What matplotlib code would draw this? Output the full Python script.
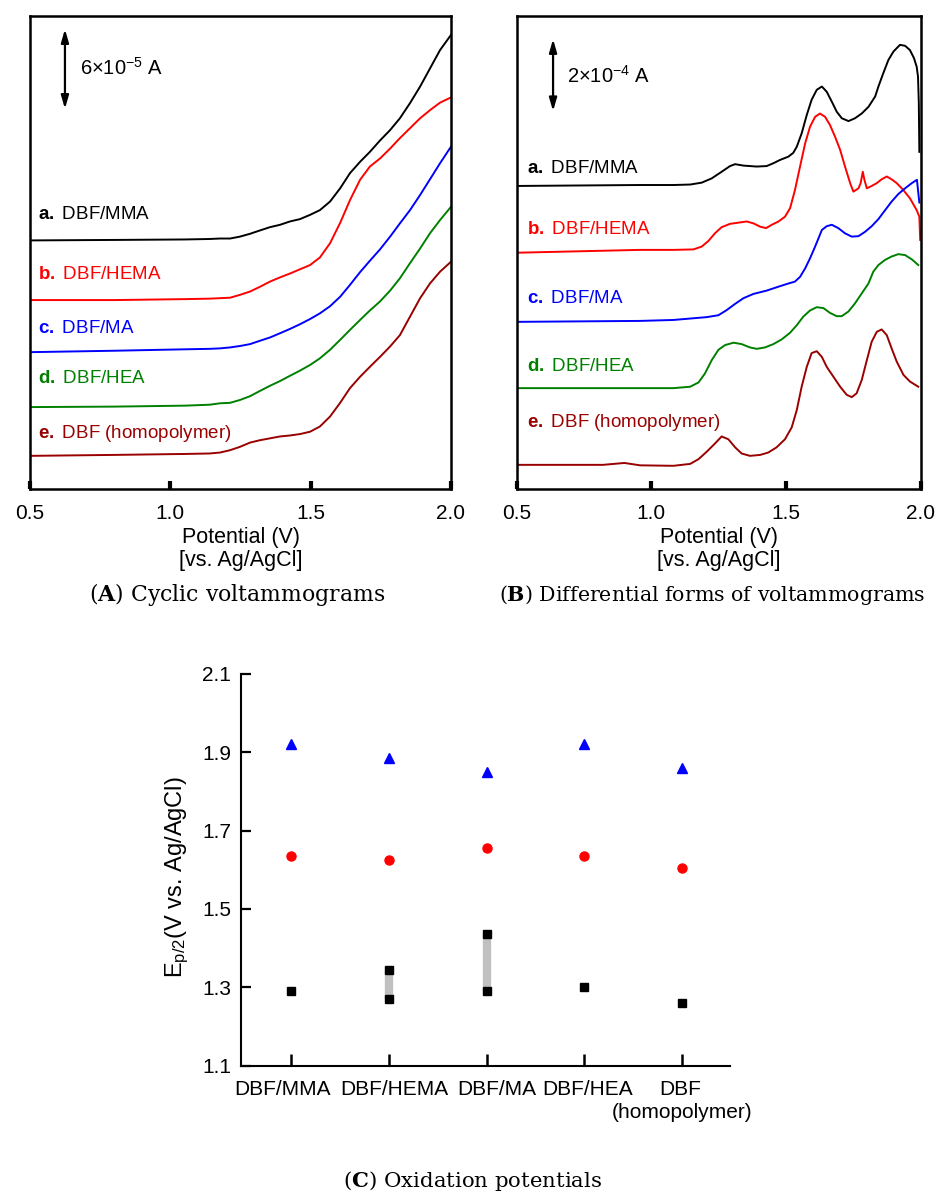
import matplotlib
matplotlib.use("Agg")
import matplotlib.pyplot as plt
import matplotlib.transforms as mtransforms
import numpy as np

plt.rcParams['font.family'] = ['Liberation Sans', 'DejaVu Sans']
plt.rcParams['mathtext.fontset'] = 'custom'
plt.rcParams['mathtext.rm'] = 'Liberation Sans'
plt.rcParams['mathtext.it'] = 'Liberation Sans:italic'
plt.rcParams['mathtext.bf'] = 'Liberation Sans:bold'

# ---- data -------------------------------------------------------------
letters = ["a.", "b.", "c.", "d.", "e."]
names = ["DBF/MMA", "DBF/HEMA", "DBF/MA", "DBF/HEA", "DBF (homopolymer)"]
colors = ["black", "#ff0000", "#0000ff", "#008000", "#990000"]

# (A) cyclic voltammograms, current offset to panel units (0..100)
cv_pot = [0.5, 0.8, 1.05, 1.14, 1.177, 1.213, 1.248, 1.284, 1.319, 1.355,
          1.391, 1.426, 1.462, 1.498, 1.533, 1.569, 1.605, 1.640, 1.676,
          1.711, 1.747, 1.783, 1.818, 1.854, 1.890, 1.925, 1.961, 2.0]
cv_a = [52.5, 52.6, 52.7, 52.8, 52.9, 52.9, 53.3, 53.9, 54.6, 55.3,
        55.8, 56.5, 57.0, 57.9, 58.9, 60.7, 63.5, 66.7, 69.1,
        71.2, 73.6, 75.8, 78.3, 81.5, 85.0, 88.8, 92.7, 95.9]
cv_b = [39.9, 39.9, 40.1, 40.2, 40.3, 40.4, 41.0, 41.7, 42.7, 43.8,
        44.7, 45.5, 46.4, 47.3, 48.9, 51.9, 56.2, 61.0, 65.3,
        68.1, 69.8, 71.9, 74.1, 76.2, 78.3, 80.0, 81.6, 82.7]
cv_c = [28.9, 29.2, 29.5, 29.6, 29.7, 29.9, 30.2, 30.6, 31.3, 32.0,
        32.9, 33.8, 34.8, 35.9, 37.1, 38.6, 40.6, 43.1, 45.8,
        48.2, 50.6, 53.3, 56.1, 58.9, 62.1, 65.4, 68.8, 72.3]
cv_d = [17.3, 17.4, 17.6, 17.8, 18.1, 18.2, 18.8, 19.6, 20.7, 21.8,
        22.8, 23.9, 25.0, 26.2, 27.6, 29.4, 31.5, 33.6, 35.7,
        37.7, 39.6, 41.9, 44.5, 47.7, 50.8, 54.0, 56.8, 59.6]
cv_e = [7.0, 7.2, 7.4, 7.5, 7.7, 8.2, 8.9, 9.8, 10.3, 10.7,
        11.1, 11.3, 11.6, 12.1, 13.2, 15.3, 18.2, 21.3, 23.7,
        25.8, 27.9, 30.1, 32.5, 36.4, 40.3, 43.4, 45.9, 48.0]

# (B) differential forms of the voltammograms
dv_a_pot = [0.5, 0.958, 1.082, 1.144, 1.187, 1.224, 1.261, 1.292, 1.311,
            1.342, 1.391, 1.428, 1.453, 1.478, 1.509, 1.527, 1.540, 1.558,
            1.577, 1.595, 1.614, 1.633, 1.651, 1.670, 1.688, 1.707, 1.732,
            1.756, 1.781, 1.806, 1.831, 1.843, 1.861, 1.880, 1.899, 1.923,
            1.942, 1.960, 1.975, 1.985, 1.990, 1.993, 1.995]
dv_a = [64.0, 64.2, 64.2, 64.3, 64.7, 65.6, 67.0, 68.2, 68.6,
        68.3, 68.1, 68.2, 68.8, 69.5, 70.2, 71.0, 72.3, 75.1,
        79.0, 82.2, 84.3, 85.0, 83.9, 81.8, 79.7, 78.3, 77.7,
        78.3, 79.3, 80.7, 82.9, 85.0, 87.8, 90.6, 92.4, 93.8,
        93.6, 92.7, 91.0, 89.2, 87.1, 81.5, 71.2]
dv_b_pot = [0.5, 0.958, 1.082, 1.156, 1.187, 1.212, 1.236, 1.261, 1.292,
            1.329, 1.354, 1.379, 1.404, 1.426, 1.447, 1.472, 1.496, 1.515,
            1.533, 1.552, 1.571, 1.589, 1.608, 1.626, 1.645, 1.663, 1.682,
            1.701, 1.719, 1.738, 1.750, 1.769, 1.777, 1.785, 1.791, 1.800,
            1.818, 1.837, 1.855, 1.874, 1.892, 1.911, 1.936, 1.960, 1.985,
            1.995, 1.998]
dv_b = [49.9, 50.5, 50.5, 50.6, 51.2, 52.4, 54.0, 55.3, 56.0,
        56.3, 56.5, 56.1, 55.4, 55.1, 55.8, 56.5, 57.5, 59.3,
        63.1, 68.1, 73.0, 76.5, 78.6, 79.3, 78.6, 76.9, 74.4,
        71.6, 68.1, 64.6, 62.8, 63.5, 64.6, 67.0, 65.3, 63.5,
        64.0, 64.6, 65.4, 66.0, 65.4, 64.6, 63.1, 61.4, 58.9,
        57.5, 52.6]
dv_c_pot = [0.5, 0.958, 1.082, 1.206, 1.249, 1.280, 1.311, 1.342, 1.379,
            1.428, 1.465, 1.503, 1.533, 1.552, 1.571, 1.589, 1.608, 1.633,
            1.651, 1.670, 1.694, 1.719, 1.744, 1.769, 1.793, 1.818, 1.843,
            1.868, 1.892, 1.917, 1.942, 1.967, 1.986, 1.995]
dv_c = [35.3, 35.5, 35.7, 36.3, 36.7, 37.8, 39.1, 40.3, 41.2,
        41.9, 42.6, 43.3, 43.8, 44.8, 46.6, 48.7, 51.2, 54.7,
        55.5, 55.8, 55.1, 54.0, 53.3, 53.4, 54.3, 55.5, 57.0,
        58.9, 60.7, 62.3, 63.5, 64.6, 65.3, 60.5]
dv_d_pot = [0.5, 0.958, 1.082, 1.144, 1.175, 1.199, 1.224, 1.249, 1.274,
            1.305, 1.335, 1.366, 1.391, 1.422, 1.453, 1.484, 1.515, 1.540,
            1.564, 1.589, 1.614, 1.639, 1.663, 1.688, 1.707, 1.732, 1.756,
            1.781, 1.806, 1.824, 1.843, 1.868, 1.892, 1.917, 1.942, 1.967,
            1.991]
dv_d = [21.3, 21.3, 21.3, 21.6, 22.5, 24.4, 27.2, 29.4, 30.4,
        30.9, 30.6, 29.9, 29.6, 29.9, 30.6, 31.6, 33.0, 34.6,
        36.4, 37.7, 38.4, 38.2, 37.2, 36.5, 36.5, 37.5, 39.2,
        41.3, 43.4, 45.9, 47.3, 48.4, 49.1, 49.6, 49.4, 48.5,
        47.3]
dv_e_pot = [0.5, 0.82, 0.9, 0.958, 1.082, 1.144, 1.175, 1.206, 1.236,
            1.261, 1.286, 1.311, 1.335, 1.366, 1.404, 1.434, 1.465, 1.496,
            1.521, 1.540, 1.558, 1.577, 1.595, 1.614, 1.633, 1.651, 1.676,
            1.701, 1.725, 1.744, 1.762, 1.781, 1.800, 1.818, 1.837, 1.855,
            1.874, 1.892, 1.911, 1.936, 1.960, 1.991]
dv_e = [5.1, 5.1, 5.5, 5.0, 4.9, 5.3, 6.3, 7.9, 9.6,
        11.1, 10.5, 8.8, 7.5, 7.0, 7.2, 7.7, 8.8, 10.5,
        13.0, 16.7, 21.6, 25.8, 28.7, 29.1, 27.9, 25.8, 23.7,
        21.6, 19.9, 19.4, 20.2, 23.0, 27.2, 31.1, 33.2, 33.7,
        32.5, 29.7, 26.9, 24.1, 22.7, 21.6]

# (C) oxidation potentials (V vs. Ag/AgCl)
cats = ["DBF/MMA", "DBF/HEMA", "DBF/MA", "DBF/HEA", "DBF"]
cat_note = "(homopolymer)"
ep1_low = [1.29, 1.27, 1.29, 1.30, 1.26]
ep1_high = [np.nan, 1.345, 1.435, np.nan, np.nan]
ep2 = [1.635, 1.625, 1.655, 1.635, 1.605]
ep3 = [1.92, 1.885, 1.85, 1.92, 1.86]

W, H = 938, 1194
fig = plt.figure(figsize=(W / 100, H / 100), dpi=100)


def px_axes(l, t, r, b):
    return fig.add_axes([l / W, 1 - b / H, (r - l) / W, (b - t) / H])


def volt_panel(ax, pots, currs, lab_y, bar, bar_text):
    for x, y, c in zip(pots, currs, colors):
        ax.plot(x, y, color=c, lw=1.4, solid_joinstyle='round')
    ax.set_xlim(0.5, 2.0)
    ax.set_ylim(0, 100)
    ax.set_yticks([])
    ax.set_xticks([0.5, 1.0, 1.5, 2.0])
    ax.set_xticklabels(["0.5", "1.0", "1.5", "2.0"])
    ax.tick_params(axis='x', direction='in', length=6, width=3, pad=11,
                   labelsize=15)
    for s in ax.spines.values():
        s.set_linewidth(1.8)
    ax.set_xlabel("Potential (V)\n[vs. Ag/AgCl]", fontsize=15.5,
                  linespacing=1.15)
    ax.xaxis.set_label_coords(0.5, -0.08)
    for i in range(5):
        ax.text(lab_y[0], lab_y[1][i],
                r"$\mathbf{" + letters[i] + "}$ " + names[i],
                color=colors[i], fontsize=13.5, va='center', ha='left')
    bx, by0, by1, tx, ty = bar
    ax.annotate("", xy=(bx, by1), xytext=(bx, by0), xycoords='axes fraction',
                arrowprops=dict(arrowstyle='<|-|>,head_width=0.16,head_length=0.55',
                                color='black', lw=1.6, shrinkA=0, shrinkB=0,
                                mutation_scale=14))
    ax.text(tx, ty, bar_text, transform=ax.transAxes, fontsize=14.5,
            va='center', ha='left')


axA = px_axes(30, 15.5, 451, 489)
volt_panel(axA, [cv_pot] * 5, [cv_a, cv_b, cv_c, cv_d, cv_e],
           (0.53, [57.9, 45.2, 34.0, 23.4, 11.8]),
           (0.083, 0.803, 0.971, 0.119, 0.889), r"6$\times$10$^{-5}$ A")

axB = px_axes(516.7, 15.5, 920.7, 489)
volt_panel(axB, [dv_a_pot, dv_b_pot, dv_c_pot, dv_d_pot, dv_e_pot],
           [dv_a, dv_b, dv_c, dv_d, dv_e],
           (0.54, [67.6, 54.7, 40.3, 25.8, 14.1]),
           (0.090, 0.798, 0.950, 0.124, 0.872), r"2$\times$10$^{-4}$ A")

# panel C
axC = px_axes(240.7, 673.8, 729.8, 1065.8)
xs = np.arange(len(cats))
axC.vlines(xs, ep1_low, ep1_high, color='#c0c0c0', lw=6, zorder=2)
axC.plot(xs, ep1_low, 's', color='black', ms=6, zorder=3, clip_on=False)
axC.plot(xs, ep1_high, 's', color='black', ms=6, zorder=3, clip_on=False)
axC.plot(xs, ep2, 'o', color='#ff0000', ms=6.5, zorder=3, clip_on=False)
axC.plot(xs, ep3, '^', color='#0000ff', ms=7.5, zorder=3, clip_on=False)
axC.set_xlim(-0.52, 4.49)
axC.set_ylim(1.1, 2.1)
axC.set_yticks([1.1, 1.3, 1.5, 1.7, 1.9, 2.1])
axC.set_yticklabels(["1.1", "1.3", "1.5", "1.7", "1.9", "2.1"])
axC.set_xticks(xs)
axC.set_xticklabels(cats)
axC.tick_params(axis='y', direction='in', length=7, width=1.6, pad=7,
                labelsize=15)
axC.tick_params(axis='x', direction='in', length=8.5, width=1.8, pad=10,
                labelsize=15)
# labels in the original sit a little off their ticks
for lab, dx in zip(axC.get_xticklabels(), [-9, 5, 10, 3, -2]):
    lab.set_transform(lab.get_transform() +
                      mtransforms.ScaledTranslation(dx / 100, 0, fig.dpi_scale_trans))
axC.spines['top'].set_visible(False)
axC.spines['right'].set_visible(False)
axC.spines['left'].set_linewidth(1.5)
axC.spines['bottom'].set_linewidth(1.5)
trans = mtransforms.blended_transform_factory(axC.transData, axC.transAxes)
axC.text(xs[-1], -0.12, cat_note, transform=trans, ha='center', va='center',
         fontsize=15)
axC.text(-0.13, 0.482, r"E$_{\mathregular{p/2}}$(V vs. Ag/AgCl)",
         transform=axC.transAxes, rotation=90, ha='center', va='center',
         fontsize=17)

# captions
cap = dict(family='DejaVu Serif', math_fontfamily='dejavuserif',
           ha='center', va='center')
fig.text(237 / W, 1 - 595 / H, r"($\mathbf{A}$) Cyclic voltammograms",
         fontsize=15.8, **cap)
fig.text(712 / W, 1 - 595 / H,
         r"($\mathbf{B}$) Differential forms of voltammograms",
         fontsize=14.8, **cap)
fig.text(473 / W, 1 - 1181 / H, r"($\mathbf{C}$) Oxidation potentials",
         fontsize=15.3, **cap)

fig.savefig("out.png", dpi=100)
